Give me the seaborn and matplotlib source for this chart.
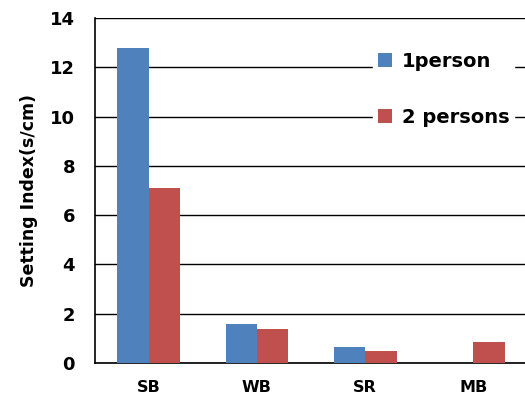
import seaborn as sns
import matplotlib.pyplot as plt
import pandas as pd

categories = ["SB", "WB", "SR", "MB"]
one_person = [12.78, 1.58, 0.65, 0.0]
two_persons = [7.1, 1.38, 0.49, 0.85]
series_names = ["1person", "2 persons"]

df = pd.DataFrame({
    "site": categories * 2,
    "value": one_person + two_persons,
    "group": [series_names[0]] * 4 + [series_names[1]] * 4,
})

sns.set_style("white")
plt.rcParams['font.family'] = ['DejaVu Sans']
plt.rcParams.update({"text.color": "black", "axes.labelcolor": "black",
                     "xtick.color": "black", "ytick.color": "black"})

fig = plt.figure(figsize=(5.25, 4), dpi=100)
ax = fig.add_axes([0.18, 0.0925, 0.825, 0.8625])

sns.barplot(data=df, x="site", y="value", hue="group",
            palette=["#4F81BD", "#C0504D"], width=0.58,
            saturation=1, linewidth=0, ax=ax, zorder=3)

ax.set_ylim(0, 14)
ax.set_yticks(range(0, 15, 2))
ax.grid(axis="y", color="black", linewidth=1, zorder=0)
ax.set_axisbelow(True)
ax.set_xlim(-0.5, 3.5)

for s in ["top", "right"]:
    ax.spines[s].set_visible(False)
for s in ["left", "bottom"]:
    ax.spines[s].set_color("black")
    ax.spines[s].set_linewidth(1.2)

ax.tick_params(axis="both", length=0)
ax.tick_params(axis="y", labelsize=13, pad=14)
ax.tick_params(axis="x", labelsize=11.5, pad=12)
for lbl in ax.get_xticklabels() + ax.get_yticklabels():
    lbl.set_fontweight("bold")
ax.set_xticks([0.5, 1.5, 2.5], minor=True)
ax.tick_params(axis="x", which="minor", direction="in", length=5,
               width=1, color="black")

ax.set_xlabel("")
ax.set_ylabel("Setting Index(s/cm)", fontsize=12.5, fontweight="bold", labelpad=9)

leg = ax.legend(loc="upper left", bbox_to_anchor=(0.62, 0.945),
                frameon=True, fancybox=False, framealpha=1,
                edgecolor="white", facecolor="white",
                prop={"size": 14, "weight": "bold"},
                handlelength=0.75, handleheight=0.75, handletextpad=0.5,
                labelspacing=1.9, borderpad=0.25)
leg.set_zorder(5)

fig.savefig("out.png", dpi=100)
